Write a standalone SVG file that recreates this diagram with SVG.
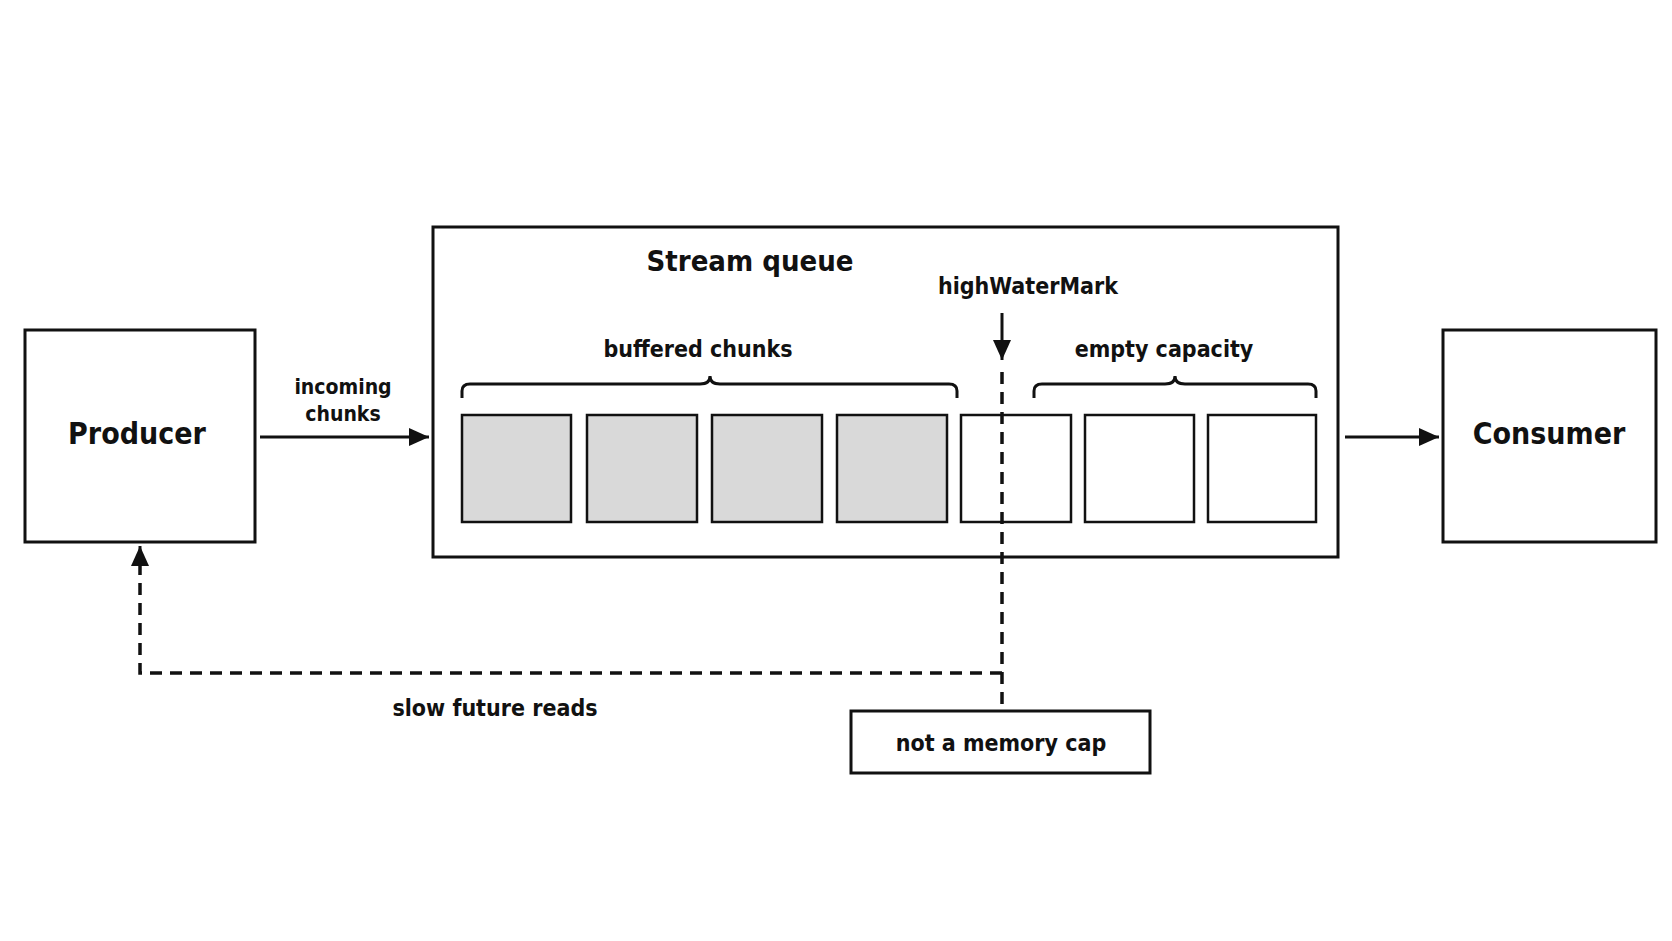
<svg xmlns="http://www.w3.org/2000/svg" width="1672" height="941" viewBox="0 0 1672 941">
<defs>
<style>
text{font-family:"Liberation Sans Narrow","DejaVu Sans Condensed",Roboto,sans-serif;font-weight:bold;fill:#111;text-anchor:middle}
.box{fill:#fff;stroke:#111;stroke-width:3}
.full{fill:#d9d9d9;stroke:#111;stroke-width:2.5}
.empty{fill:#fff;stroke:#111;stroke-width:2.5}
.ln{fill:none;stroke:#111;stroke-width:3}
.dash{fill:none;stroke:#111;stroke-width:3.5;stroke-dasharray:12 8}
</style>
<marker id="a" viewBox="0 0 20 20" refX="20" refY="10" markerWidth="20" markerHeight="20" orient="auto" markerUnits="userSpaceOnUse"><path d="M0,1 L20,10 L0,19 z" fill="#111"/></marker>
</defs>
<rect width="1672" height="941" fill="#fff"/>
<g id="producer"><rect class="box" x="25" y="330" width="230" height="212"/><text x="137" y="444" font-size="30">Producer</text></g>
<g id="consumer"><rect class="box" x="1443" y="330" width="213" height="212"/><text x="1549" y="444" font-size="30">Consumer</text></g>
<g id="queue">
<rect class="box" x="433" y="227" width="905" height="330"/>
<text x="750" y="271" font-size="29">Stream queue</text>
<rect class="full" x="462" y="415" width="109" height="107"/>
<rect class="full" x="587" y="415" width="110" height="107"/>
<rect class="full" x="712" y="415" width="110" height="107"/>
<rect class="full" x="837" y="415" width="110" height="107"/>
<rect class="empty" x="961" y="415" width="110" height="107"/>
<rect class="empty" x="1085" y="415" width="109" height="107"/>
<rect class="empty" x="1208" y="415" width="108" height="107"/>
<path class="ln" d="M462,398 V391 Q462,384 470,384 H700 Q710,384 710,376 Q710,384 720,384 H949 Q957,384 957,391 V398"/>
<path class="ln" d="M1034,398 V391 Q1034,384 1042,384 H1165 Q1175,384 1175,376 Q1175,384 1185,384 H1308 Q1316,384 1316,391 V398"/>
<text x="698" y="357" font-size="23">buffered chunks</text>
<text x="1164" y="357" font-size="23">empty capacity</text>
</g>
<g id="hwm"><text x="1028" y="294" font-size="23">highWaterMark</text></g>
<g id="memcap"><rect class="box" x="851" y="711" width="299" height="62"/><text x="1001" y="751" font-size="23">not a memory cap</text></g>
<g id="connectors">
<line class="ln" x1="260" y1="437" x2="429" y2="437" marker-end="url(#a)"/>
<line class="ln" x1="1345" y1="437" x2="1439" y2="437" marker-end="url(#a)"/>
<line class="ln" x1="1002" y1="313" x2="1002" y2="360" marker-end="url(#a)"/>
<line class="dash" x1="1002" y1="372" x2="1002" y2="711"/>
<path class="dash" d="M1002,673 H140 V560"/>
<line class="ln" x1="140" y1="566" x2="140" y2="546" marker-end="url(#a)"/>
<text x="343" y="394" font-size="21">incoming</text>
<text x="343" y="421" font-size="21">chunks</text>
<text x="495" y="716" font-size="23">slow future reads</text>
</g>
</svg>
